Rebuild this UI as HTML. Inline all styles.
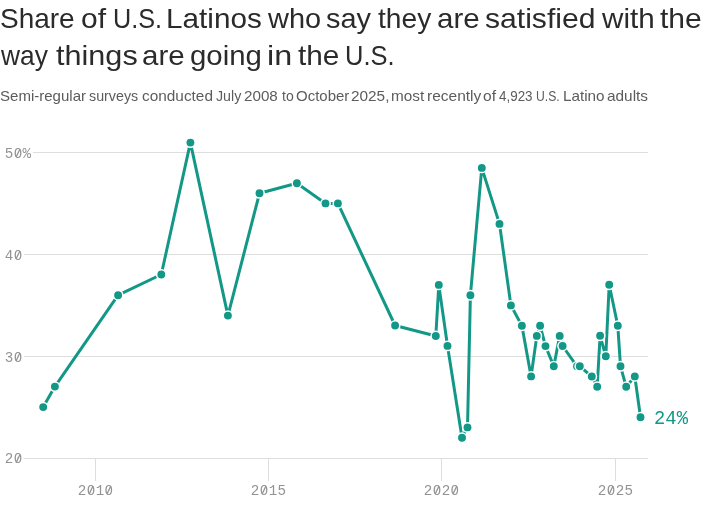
<!DOCTYPE html>
<html><head><meta charset="utf-8">
<style>
html,body{margin:0;padding:0;background:#fff;width:720px;height:523px;overflow:hidden}
body{position:relative;font-family:"Liberation Sans",sans-serif}
.t,.s{position:absolute;display:block;line-height:50px;white-space:nowrap;transform-origin:0 0}
.wrap{position:absolute;left:0;top:0;width:720px;height:120px;will-change:transform}
.t{font-size:28px;color:#2b2b2b}
.s{font-size:14.5px;color:#5c5c5c}
svg{position:absolute;left:0;top:0;will-change:transform}
.ax{font-family:"Liberation Mono",monospace;font-size:14.2px;letter-spacing:0.4px;fill:#939393}
</style></head><body>
<div class="wrap">
<span class="t" style="left:0.30px;top:-6px;transform:scaleX(0.9986)">Share</span>
<span class="t" style="left:81.13px;top:-6px;transform:scaleX(1.0727)">of</span>
<span class="t" style="left:112.50px;top:-6px;transform:scaleX(0.9000)">U.S.</span>
<span class="t" style="left:166.38px;top:-6px;transform:scaleX(1.0609)">Latinos</span>
<span class="t" style="left:268.30px;top:-6px;transform:scaleX(1.0340)">who</span>
<span class="t" style="left:326.47px;top:-6px;transform:scaleX(1.0310)">say</span>
<span class="t" style="left:377.50px;top:-6px;transform:scaleX(1.0057)">they</span>
<span class="t" style="left:437.25px;top:-6px;transform:scaleX(1.0526)">are</span>
<span class="t" style="left:484.73px;top:-6px;transform:scaleX(1.0750)">satisfied</span>
<span class="t" style="left:601.70px;top:-6px;transform:scaleX(1.0583)">with</span>
<span class="t" style="left:660.00px;top:-6px;transform:scaleX(1.0737)">the</span>
<span class="t" style="left:1.30px;top:31px;transform:scaleX(0.9400)">way</span>
<span class="t" style="left:55.80px;top:31px;transform:scaleX(1.0932)">things</span>
<span class="t" style="left:142.25px;top:31px;transform:scaleX(1.0526)">are</span>
<span class="t" style="left:189.75px;top:31px;transform:scaleX(1.0485)">going</span>
<span class="t" style="left:266.89px;top:31px;transform:scaleX(1.1556)">in</span>
<span class="t" style="left:298.30px;top:31px;transform:scaleX(1.0632)">the</span>
<span class="t" style="left:345.18px;top:31px;transform:scaleX(0.9100)">U.S.</span>
<span class="s" style="left:-0.24px;top:70.6px;transform:scaleX(1.0366)">Semi-regular</span>
<span class="s" style="left:89.01px;top:70.6px;transform:scaleX(0.9857)">surveys</span>
<span class="s" style="left:141.74px;top:70.6px;transform:scaleX(1.0600)">conducted</span>
<span class="s" style="left:216.22px;top:70.6px;transform:scaleX(0.9800)">July</span>
<span class="s" style="left:243.95px;top:70.6px;transform:scaleX(1.0484)">2008</span>
<span class="s" style="left:281.70px;top:70.6px;transform:scaleX(0.9667)">to</span>
<span class="s" style="left:296.47px;top:70.6px;transform:scaleX(1.0340)">October</span>
<span class="s" style="left:351.44px;top:70.6px;transform:scaleX(1.0588)">2025,</span>
<span class="s" style="left:391.44px;top:70.6px;transform:scaleX(1.0567)">most</span>
<span class="s" style="left:427.23px;top:70.6px;transform:scaleX(1.0680)">recently</span>
<span class="s" style="left:483.13px;top:70.6px;transform:scaleX(1.0727)">of</span>
<span class="s" style="left:499.20px;top:70.6px;transform:scaleX(0.9250)">4,923</span>
<span class="s" style="left:535.86px;top:70.6px;transform:scaleX(0.8385)">U.S.</span>
<span class="s" style="left:563.15px;top:70.6px;transform:scaleX(1.0526)">Latino</span>
<span class="s" style="left:607.24px;top:70.6px;transform:scaleX(1.0595)">adults</span>
</div>
<svg width="720" height="523" viewBox="0 0 720 523">
<g stroke="#dedede" stroke-width="1" fill="none">
<line x1="33" y1="152.5" x2="648" y2="152.5"/>
<line x1="24" y1="254.5" x2="648" y2="254.5"/>
<line x1="24" y1="356.5" x2="648" y2="356.5"/>
<line x1="23.5" y1="458.5" x2="648" y2="458.5"/>
<line x1="95.5" y1="458" x2="95.5" y2="481"/>
<line x1="268.5" y1="458" x2="268.5" y2="481"/>
<line x1="441.5" y1="458" x2="441.5" y2="481"/>
<line x1="615.5" y1="458" x2="615.5" y2="481"/>
</g>
<g class="ax">
<text x="4.80" y="157.80">50%</text>
<text x="4.80" y="259.60">40</text>
<text x="4.80" y="361.60">30</text>
<text x="4.80" y="463.40">20</text>
<text x="77.86" y="494.70">2010</text>
<text x="250.86" y="494.70">2015</text>
<text x="423.86" y="494.70">2020</text>
<text x="597.86" y="494.70">2025</text>
</g>
<g>
<circle cx="17.98" cy="153.11" r="1.5" fill="#fff"/>
<line x1="16.08" y1="157.01" x2="19.88" y2="149.21" stroke="#939393" stroke-width="1.25"/>
<circle cx="17.98" cy="254.91" r="1.5" fill="#fff"/>
<line x1="16.08" y1="258.81" x2="19.88" y2="251.01" stroke="#939393" stroke-width="1.25"/>
<circle cx="17.98" cy="356.91" r="1.5" fill="#fff"/>
<line x1="16.08" y1="360.81" x2="19.88" y2="353.01" stroke="#939393" stroke-width="1.25"/>
<circle cx="17.98" cy="458.71" r="1.5" fill="#fff"/>
<line x1="16.08" y1="462.61" x2="19.88" y2="454.81" stroke="#939393" stroke-width="1.25"/>
<circle cx="91.04" cy="490.01" r="1.5" fill="#fff"/>
<line x1="89.14" y1="493.91" x2="92.94" y2="486.11" stroke="#939393" stroke-width="1.25"/>
<circle cx="108.88" cy="490.01" r="1.5" fill="#fff"/>
<line x1="106.98" y1="493.91" x2="110.78" y2="486.11" stroke="#939393" stroke-width="1.25"/>
<circle cx="264.04" cy="490.01" r="1.5" fill="#fff"/>
<line x1="262.14" y1="493.91" x2="265.94" y2="486.11" stroke="#939393" stroke-width="1.25"/>
<circle cx="437.04" cy="490.01" r="1.5" fill="#fff"/>
<line x1="435.14" y1="493.91" x2="438.94" y2="486.11" stroke="#939393" stroke-width="1.25"/>
<circle cx="454.88" cy="490.01" r="1.5" fill="#fff"/>
<line x1="452.98" y1="493.91" x2="456.78" y2="486.11" stroke="#939393" stroke-width="1.25"/>
<circle cx="611.04" cy="490.01" r="1.5" fill="#fff"/>
<line x1="609.14" y1="493.91" x2="612.94" y2="486.11" stroke="#939393" stroke-width="1.25"/>
</g>
<path d="M43.2,407.1 L54.9,386.6 L118.1,295.2 L161.3,274.5 L190.4,142.6 L227.9,315.6 L259.5,193.3 L296.9,183.2 L325.5,203.4 L337.9,203.4 L395.1,325.5 L435.8,336.0 L438.8,284.9 L447.5,345.9 L462.0,437.7 L467.5,427.4 L470.4,295.2 L481.8,167.9 L499.5,223.9 L510.9,305.4 L521.9,325.7 L531.1,376.4 L536.8,335.9 L540.1,325.7 L545.5,346.1 L553.8,366.3 L559.7,335.9 L562.6,346.0 L577.0,366.3 L579.8,366.3 L591.8,376.5 L597.2,386.7 L600.1,335.8 L605.8,356.2 L609.2,284.8 L617.8,325.7 L620.5,366.3 L626.2,386.8 L634.8,376.4 L640.5,417.2" fill="none" stroke="#139887" stroke-width="3" stroke-linejoin="round" stroke-linecap="round"/>
<g fill="#139887" stroke="#fff" stroke-width="1.5">
<circle cx="43.2" cy="407.1" r="4.7"/>
<circle cx="54.9" cy="386.6" r="4.7"/>
<circle cx="118.1" cy="295.2" r="4.7"/>
<circle cx="161.3" cy="274.5" r="4.7"/>
<circle cx="190.4" cy="142.6" r="4.7"/>
<circle cx="227.9" cy="315.6" r="4.7"/>
<circle cx="259.5" cy="193.3" r="4.7"/>
<circle cx="296.9" cy="183.2" r="4.7"/>
<circle cx="325.5" cy="203.4" r="4.7"/>
<circle cx="337.9" cy="203.4" r="4.7"/>
<circle cx="395.1" cy="325.5" r="4.7"/>
<circle cx="435.8" cy="336.0" r="4.7"/>
<circle cx="438.8" cy="284.9" r="4.7"/>
<circle cx="447.5" cy="345.9" r="4.7"/>
<circle cx="462.0" cy="437.7" r="4.7"/>
<circle cx="467.5" cy="427.4" r="4.7"/>
<circle cx="470.4" cy="295.2" r="4.7"/>
<circle cx="481.8" cy="167.9" r="4.7"/>
<circle cx="499.5" cy="223.9" r="4.7"/>
<circle cx="510.9" cy="305.4" r="4.7"/>
<circle cx="521.9" cy="325.7" r="4.7"/>
<circle cx="531.1" cy="376.4" r="4.7"/>
<circle cx="536.8" cy="335.9" r="4.7"/>
<circle cx="540.1" cy="325.7" r="4.7"/>
<circle cx="545.5" cy="346.1" r="4.7"/>
<circle cx="553.8" cy="366.3" r="4.7"/>
<circle cx="559.7" cy="335.9" r="4.7"/>
<circle cx="562.6" cy="346.0" r="4.7"/>
<circle cx="577.0" cy="366.3" r="4.7"/>
<circle cx="579.8" cy="366.3" r="4.7"/>
<circle cx="591.8" cy="376.5" r="4.7"/>
<circle cx="597.2" cy="386.7" r="4.7"/>
<circle cx="600.1" cy="335.8" r="4.7"/>
<circle cx="605.8" cy="356.2" r="4.7"/>
<circle cx="609.2" cy="284.8" r="4.7"/>
<circle cx="617.8" cy="325.7" r="4.7"/>
<circle cx="620.5" cy="366.3" r="4.7"/>
<circle cx="626.2" cy="386.8" r="4.7"/>
<circle cx="634.8" cy="376.4" r="4.7"/>
<circle cx="640.5" cy="417.2" r="4.7"/>
</g>
<text transform="translate(654.1,423.6) scale(1,1.06)" font-family="Liberation Mono" font-size="18.8" fill="#139887">24%</text>
</svg>
</body></html>
